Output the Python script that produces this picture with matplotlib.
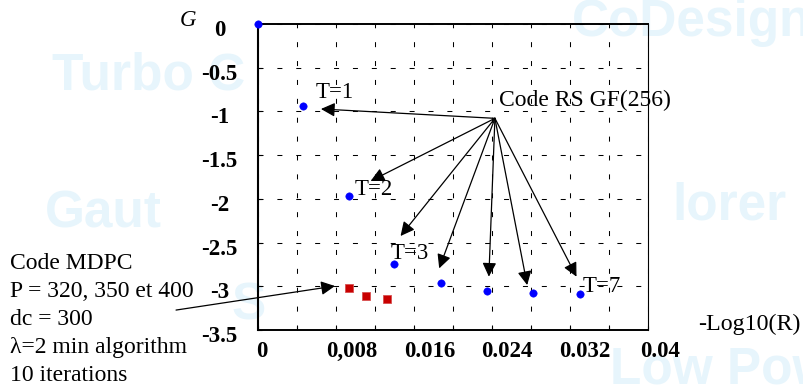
import matplotlib
matplotlib.use("Agg")
import matplotlib.pyplot as plt
from matplotlib.patches import ArrowStyle
from matplotlib.transforms import ScaledTranslation

plt.rcParams["font.family"] = ["Liberation Serif", "DejaVu Serif"]
plt.rcParams["lines.scale_dashes"] = False

# Reed-Solomon GF(256) codes, T = 0 .. 7
rs_rate_loss = [0.0, 0.00464, 0.00935, 0.01396, 0.01871, 0.02342, 0.0282, 0.03298]
rs_gain = [0.0, -0.938, -1.967, -2.742, -2.966, -3.050, -3.081, -3.092]

# MDPC codes, P = 320, 350, 400
mdpc_rate_loss = [0.00935, 0.01103, 0.01318]
mdpc_gain = [-3.016, -3.108, -3.140]

x_ticks = [0.0, 0.008, 0.016, 0.024, 0.032, 0.04]
x_tick_labels = ["0", "0,008", "0.016", "0.024", "0.032", "0.04"]
x_minor_ticks = [0.004, 0.012, 0.020, 0.028, 0.036]
y_ticks = [0.0, -0.5, -1.0, -1.5, -2.0, -2.5, -3.0, -3.5]
y_tick_labels = ["0", "-0.5", "-1", "-1.5", "-2", "-2.5", "-3", "-3.5"]

t_labels = ["T=1", "T=2", "T=3", "T=7"]
mdpc_note = ["Code MDPC", "P = 320, 350 et 400", "dc = 300",
             "\u03bb=2 min algorithm", "10 iterations"]

W, H = 804, 392
fig = plt.figure(figsize=(W / 100, H / 100), dpi=100)


def px(x, y):
    """Pixel position (from the top-left corner) to figure fraction."""
    return x / W, 1 - y / H


def shift(dx, dy):
    """Offset in pixels, as a transform."""
    return ScaledTranslation(dx / 100, dy / 100, fig.dpi_scale_trans)


# faint slide background lettering
wm = dict(color="#e7f5fc", fontsize=37, fontweight="bold",
          family="Liberation Sans", va="baseline", zorder=-5)
for word, (x, y) in [("CoDesign", (572, 36)), ("Turbo C", (52, 90)),
                     ("Gaut", (45, 227)), ("lorer", (672, 220)),
                     ("Low Pow", (610, 383)), ("S", (232, 320))]:
    fig.text(*px(x, y), word, **wm)

ax = fig.add_axes([258 / W, 62 / H, 390.3 / W, 306 / H])
ax.set_facecolor("none")
ax.set_xlim(0, 0.04)
ax.set_ylim(-3.5, 0)

dash = (0, (3.6, 10))
ax.set_xticks(x_ticks)
ax.set_xticklabels(x_tick_labels)
ax.set_xticks(x_minor_ticks, minor=True)
ax.set_yticks(y_ticks)
ax.set_yticklabels(y_tick_labels)
ax.grid(True, which="both", axis="x", color="black", lw=0.75, linestyle=dash)
ax.grid(True, which="major", axis="y", color="black", lw=0.75, linestyle=dash)
ax.set_axisbelow(True)

ax.tick_params(axis="x", which="both", direction="in", length=2.6, width=0.8,
               pad=8, labelsize=16.5)
ax.tick_params(axis="y", direction="in", length=3.2, width=0.8,
               pad=27.7, labelsize=16.5)
for lab in ax.get_yticklabels():
    lab.set_horizontalalignment("center")
    lab.set_fontweight("bold")
    lab.set_transform(lab.get_transform() + shift(0, -4))
x_shift = [3.7, 16, 15.5, 14.5, 15, 12]
for lab, dx in zip(ax.get_xticklabels(), x_shift):
    lab.set_fontweight("bold")
    lab.set_transform(lab.get_transform() + shift(dx, 0))

for side, lw in [("left", 1.5), ("bottom", 1.4), ("top", 1.4), ("right", 0.8)]:
    ax.spines[side].set_linewidth(lw)
    ax.spines[side].set_color("black")

ax.plot(rs_rate_loss, rs_gain, "o", color="#0000ff", ms=5.3, mec="#0000ff",
        mew=0.4, clip_on=False, zorder=5)
ax.plot(mdpc_rate_loss, mdpc_gain, "s", color="#c80000", ms=6.4,
        mec="#d85050", mew=0.6, clip_on=False, zorder=5)

head = ArrowStyle("-|>", head_length=0.84, head_width=0.42)
arrow = dict(arrowstyle=head, color="black", lw=0.9, shrinkA=0, shrinkB=0,
             mutation_scale=10)

# fan of arrows from the RS caption to each code point
rs_origin = (0.02428, -1.079)
rs_tips = [(0.00645, -0.972), (0.01154, -1.796), (0.01461, -2.425),
           (0.01857, -2.795), (0.02366, -2.890), (0.02759, -2.986),
           (0.03264, -2.890)]
for tip in rs_tips:
    ax.annotate("", xy=tip, xytext=rs_origin, arrowprops=arrow,
                annotation_clip=False)
ax.text(0.02472, -0.938, "Code RS GF(256)", fontsize=17, va="baseline")

for lab, (x, y) in zip(t_labels, [(0.00594, -0.850), (0.00986, -1.956),
                                  (0.01359, -2.688), (0.03326, -3.062)]):
    ax.text(x, y, lab, fontsize=16.5, va="baseline", zorder=6)

# MDPC caption and its arrow
ax.annotate("", xy=(0.00789, -2.997), xytext=(-0.0084, -3.272),
            arrowprops=arrow, annotation_clip=False)
for i, line in enumerate(mdpc_note):
    fig.text(*px(10.5, 269 + 28 * i), line, fontsize=17, va="baseline")

fig.text(*px(179.3, 26), "G", fontsize=16.5, style="italic", va="baseline")
fig.text(*px(698.3, 330), "-Log10(R)", fontsize=17.3, va="baseline")

fig.savefig("out.png", dpi=100)
